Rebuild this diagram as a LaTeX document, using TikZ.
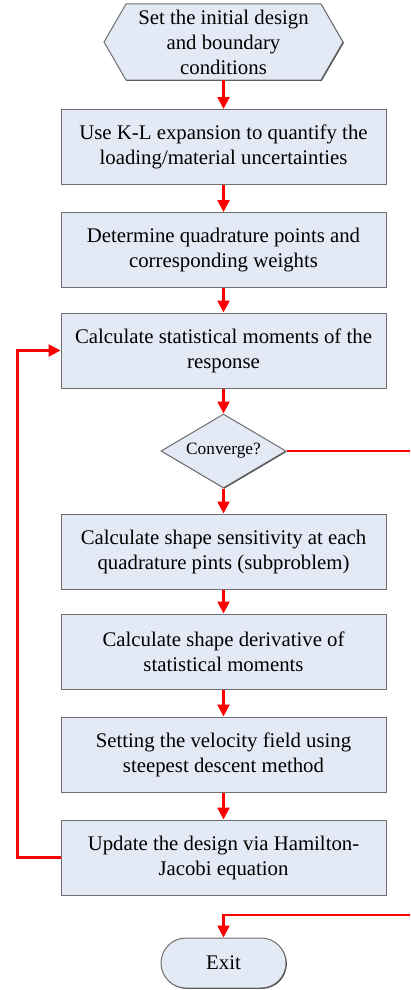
\documentclass[tikz,border=0pt]{standalone}
\usepackage{fontspec}
\setmainfont{Liberation Serif}
\usetikzlibrary{arrows.meta,shapes.geometric,shadows,backgrounds}

\definecolor{boxfill}{RGB}{228,234,245}
\definecolor{boxline}{RGB}{110,110,110}
\definecolor{flowred}{RGB}{255,0,0}

\tikzset{
  shapeframe/.style={draw=boxline, line width=1pt, fill=boxfill,
    drop shadow={shadow xshift=0.8pt, shadow yshift=-0.8pt, opacity=1, fill=black!85}},
  stepbox/.style={shapeframe, rectangle, minimum width=325pt, minimum height=75pt,
    inner sep=0pt, align=center, font=\fontsize{20.8}{25}\selectfont},
  decide/.style={shapeframe, diamond, minimum width=125pt, minimum height=74pt,
    aspect=1.69, inner sep=0pt, font=\fontsize{17.3}{20}\selectfont},
  terminal/.style={shapeframe, rectangle, rounded corners=25pt, minimum width=125pt,
    minimum height=50pt, inner sep=0pt, font=\fontsize{20.8}{25}\selectfont},
  flow/.style={draw=flowred, line width=2.3pt, -{Triangle[length=12pt,width=12pt]}},
  flowline/.style={draw=flowred, line width=2.3pt}
}

\begin{document}
\begin{tikzpicture}[x=1pt,y=-1pt]
\useasboundingbox (0,0) rectangle (410,990);

% start hexagon
\path[shapeframe] (126,4) -- (321,4) -- (343,42) -- (321,80) -- (126,80) -- (104,42) -- cycle;
\node[align=center, font=\fontsize{20.8}{25}\selectfont, inner sep=0pt,
      minimum width=195pt, minimum height=76pt] (start) at (223.5,42)
  {Set the initial design\\and boundary\\conditions};

% process steps
\node[stepbox] (kl)   at (223.5,147)   {Use K-L expansion to quantify the\\loading/material uncertainties};
\node[stepbox] (quad) at (223.5,250)   {Determine quadrature points and\\corresponding weights};
\node[stepbox] (mom)  at (223.5,350.5) {Calculate statistical moments of the\\response};
\node[decide]  (conv) at (223.5,451)   {Converge?};
\node[stepbox] (sens) at (223.5,551.5) {Calculate shape sensitivity at each\\quadrature pints (subproblem)};
\node[stepbox] (deriv) at (223.5,651.5) {Calculate shape derivative of\\statistical moments};
\node[stepbox] (vel)  at (223.5,754.5) {Setting the velocity field using\\steepest descent method};
\node[stepbox] (upd)  at (223.5,857.5) {Update the design via Hamilton-\\Jacobi equation};
\node[terminal] (exit) at (223.5,963)  {Exit};

% free ends at the right margin
\coordinate (outA) at (410,451);
\coordinate (outB) at (410,915);

% connectors
\draw[flow] (start.south) -- (kl.north);
\draw[flow] (kl.south) -- (quad.north);
\draw[flow] (quad.south) -- (mom.north);
\draw[flow] (mom.south) -- (conv.north);
\draw[flow] (conv.south) -- (sens.north);
\draw[flow] (sens.south) -- (deriv.north);
\draw[flow] (deriv.south) -- (vel.north);
\draw[flow] (vel.south) -- (upd.north);
\draw[flow] (upd.west) -- ++(-43,0) |- (mom.west);
\draw[flowline] (conv.east) -- (outA);
\draw[flow] (outB) -| (exit.north);
\end{tikzpicture}
\end{document}
